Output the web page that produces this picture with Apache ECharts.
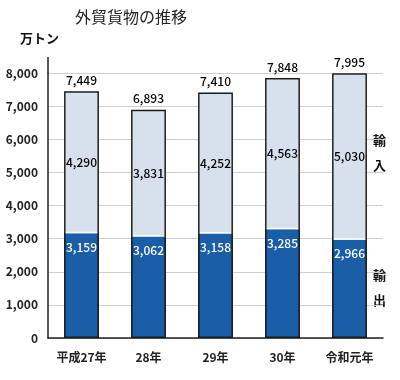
<!DOCTYPE html>
<html><head><meta charset="utf-8">
<script src="https://cdn.jsdelivr.net/npm/echarts@6/dist/echarts.min.js"></script>
<style>html,body{margin:0;padding:0;background:#fff}#c{width:400px;height:380px}</style>
</head><body><div id="c"></div>
<script>
const categories = ['平成27年', '28年', '29年', '30年', '令和元年'];
const exportsVals = [3159, 3062, 3158, 3285, 2966];
const importsVals = [4290, 3831, 4252, 4563, 5030];
const totals = [7449, 6893, 7410, 7848, 7995];
const yTicks = { min: 0, max: 8000, interval: 1000 };

const FONT = '"Noto Sans CJK JP", "Noto Sans", sans-serif';
const fmt = v => Number(v).toLocaleString('en-US');

const chart = echarts.init(document.getElementById('c'));
chart.setOption({
  animation: false,
  textStyle: { fontFamily: FONT },
  title: {
    text: '外貿貨物の推移', left: 70, top: 4,
    textStyle: { fontFamily: FONT, fontSize: 16, fontWeight: 'normal', color: '#222' }
  },
  grid: { left: 48, right: 17, top: 73, bottom: 42 },
  xAxis: {
    type: 'category', data: categories,
    axisLine: { lineStyle: { color: '#222', width: 1.5 } },
    axisTick: { show: false },
    axisLabel: { fontSize: 12, fontWeight: 'bold', color: '#222', margin: 13, fontFamily: FONT }
  },
  yAxis: {
    type: 'value', min: yTicks.min, max: yTicks.max, interval: yTicks.interval,
    axisLine: { show: true, lineStyle: { color: '#222', width: 1.5 } },
    axisTick: { show: false },
    splitLine: { lineStyle: { color: '#cfcfcf', width: 1 } },
    axisLabel: { fontSize: 12, fontWeight: 'bold', color: '#222', margin: 10, formatter: v => fmt(v), fontFamily: FONT }
  },
  series: [
    {
      name: '輸出', type: 'bar', stack: 't', data: exportsVals, barWidth: '52%',
      itemStyle: { color: '#1a5ea8' },
      label: { show: true, position: 'insideTop', distance: 8, color: '#fff', fontSize: 12, fontWeight: 500, formatter: p => fmt(p.value) }
    },
    {
      name: '輸入', type: 'bar', stack: 't', data: importsVals, barWidth: '52%',
      itemStyle: { color: '#d6e1ed', borderColor: '#ffffff', borderWidth: 1.5 },
      label: { show: true, position: 'inside', color: '#000', fontSize: 12, fontWeight: 500, formatter: p => fmt(p.value) }
    },
    {
      name: '合計', type: 'bar', data: totals, barWidth: '52%', barGap: '-100%', z: 5, silent: true,
      itemStyle: { color: 'rgba(0,0,0,0)', borderColor: '#1a1a1a', borderWidth: 1.5 },
      label: { show: true, position: 'top', distance: 5, color: '#000', fontSize: 12, fontWeight: 500, formatter: p => fmt(p.value) }
    }
  ],
  graphic: [
    { type: 'line', shape: { x1: 48, y1: 57, x2: 48, y2: 73 }, style: { stroke: '#222', lineWidth: 1.5 } },
    { type: 'text', left: 20, top: 32, style: { text: '万トン', fill: '#111', font: 'bold 13px ' + FONT } },
    { type: 'text', left: 373, top: 128, style: { text: '輸\n入', lineHeight: 25, fill: '#111', font: 'bold 13px ' + FONT } },
    { type: 'text', left: 373, top: 263, style: { text: '輸\n出', lineHeight: 25, fill: '#111', font: 'bold 13px ' + FONT } }
  ]
});
</script></body></html>
